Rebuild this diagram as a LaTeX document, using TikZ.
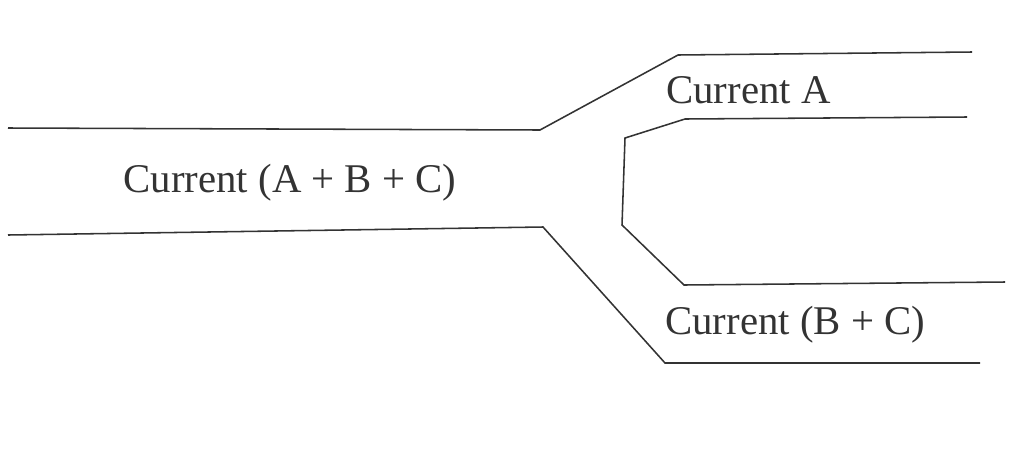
\documentclass[tikz,border=0pt]{standalone}
\usepackage{fontspec}
\setmainfont{Liberation Serif}
\usepackage{tikz}
\usetikzlibrary{calc}

\begin{document}
\begin{tikzpicture}[x=0.025cm,y=-0.025cm,
	wall/.style={line width=1.1pt,draw=black!80},
	lbl/.style={font=\fontsize{29}{33}\selectfont,text=black!80,inner sep=0pt}]
		\useasboundingbox (0,0) rectangle (1010,455);
		
		% outer upper wall
		\coordinate(T1) at (8,128);
		\coordinate(T2) at (540,130);
		\coordinate(T3) at (678,55);
		\coordinate(T4) at (972,52);
		% outer lower wall
		\coordinate(B1) at (8,235);
		\coordinate(B2) at (543,227);
		\coordinate(B3) at (665,363);
		\coordinate(B4) at (980,363);
		% inner wall
		\coordinate(I1) at (967,117);
		\coordinate(I2) at (685,119);
		\coordinate(I3) at (625,138);
		\coordinate(I4) at (622,225);
		\coordinate(I5) at (684,285);
		\coordinate(I6) at (1005,282);
		
		\draw[wall] (T1)--(T2)--(T3)--(T4);
		\draw[wall] (B1)--(B2)--(B3)--(B4);
		\draw[wall] (I1)--(I2)--(I3)--(I4)--(I5)--(I6);
		
		\node[lbl](ABC) at (290,183){Current (A + B + C)};
		\node[lbl,anchor=west](A) at (666,90){Current A};
		\node[lbl,anchor=west](BC) at (665,325){Current (B + C)};
	\end{tikzpicture}
\end{document}
